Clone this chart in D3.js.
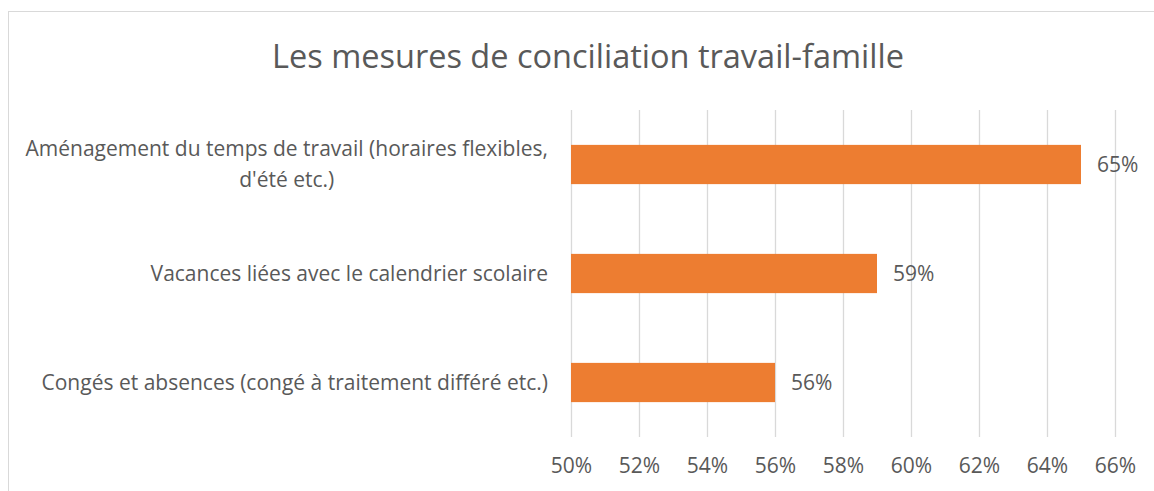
<!DOCTYPE html>
<html>
<head>
<meta charset="utf-8">
<script src="https://cdn.jsdelivr.net/npm/d3@7"></script>
<style>
  body { margin: 0; background: #fff; }
  text { font-family: "Open Sans", sans-serif; fill: #595959; }
</style>
</head>
<body>
<script>
// data
const categories = [
    "Aménagement du temps de travail (horaires flexibles,|d'été etc.)",
    "Vacances liées avec le calendrier scolaire",
    "Congés et absences (congé à traitement différé etc.)"
];
const values = [0.65, 0.59, 0.56];
const tickValues = [0.50, 0.52, 0.54, 0.56, 0.58, 0.60, 0.62, 0.64, 0.66];
const title = "Les mesures de conciliation travail-famille";

// canvas
const canvWidth = 1154, canvHeight = 491;
const svg = d3.select("body").append("svg")
    .attr("width", canvWidth)
    .attr("height", canvHeight);

// chart border (runs off the right and bottom edges like the picture)
svg.append("rect")
    .attr("x", 8.5)
    .attr("y", 11.5)
    .attr("width", 1200)
    .attr("height", 600)
    .attr("fill", "none")
    .attr("stroke", "#d9d9d9");

// plot area
const plot = { left: 571, right: 1115, top: 110, bottom: 437 };
const fontSize = "21px";

const xScale = d3.scaleLinear()
    .domain([0.50, 0.66])
    .range([plot.left, plot.right]);

const yScale = d3.scaleBand()
    .domain(categories)
    .range([plot.top, plot.bottom])
    .paddingInner(0.64)
    .paddingOuter(0.32);

// title
svg.append("text")
    .attr("x", 588)
    .attr("y", 57)
    .attr("dy", "0.35em")
    .attr("font-size", "32.5px")
    .style("text-anchor", "middle")
    .text(title);

// gridlines
const grid = svg.append("g")
    .attr("transform", "translate(0," + plot.bottom + ")")
    .call(d3.axisBottom(xScale)
        .tickValues(tickValues)
        .tickSize(-(plot.bottom - plot.top))
        .tickFormat(""));
grid.select(".domain").remove();
grid.selectAll("line").attr("stroke", "#d9d9d9").attr("stroke-width", 1.3);

// x axis labels
const xAxis = svg.append("g")
    .attr("transform", "translate(0," + plot.bottom + ")")
    .call(d3.axisBottom(xScale)
        .tickValues(tickValues)
        .tickSize(0)
        .tickPadding(21)
        .tickFormat(d3.format(".0%")));
xAxis.select(".domain").remove();
xAxis.selectAll("text")
    .attr("font-size", fontSize)
    .style("font-family", "'Open Sans', sans-serif")
    .attr("fill", "#595959");

// bars
svg.selectAll("rect.bar")
    .data(values)
    .enter()
    .append("rect")
    .attr("class", "bar")
    .attr("x", xScale(0.50))
    .attr("y", (d, i) => yScale(categories[i]))
    .attr("width", d => xScale(d) - xScale(0.50))
    .attr("height", yScale.bandwidth())
    .attr("fill", "#ed7d31");

// value labels
svg.selectAll("text.value")
    .data(values)
    .enter()
    .append("text")
    .attr("class", "value")
    .attr("x", d => xScale(d) + 16)
    .attr("y", (d, i) => yScale(categories[i]) + yScale.bandwidth() / 2)
    .attr("dy", "0.35em")
    .attr("font-size", fontSize)
    .text(d3.format(".0%"));

// category labels (multi-line ones are centred inside a right-aligned block)
categories.forEach(function (c) {
    const lines = c.split("|");
    const cy = yScale(c) + yScale.bandwidth() / 2;
    const lineH = 31;
    const t = svg.append("text")
        .attr("font-size", fontSize)
        .attr("y", cy - (lines.length - 1) * lineH / 2)
        .style("text-anchor", lines.length > 1 ? "middle" : "end");
    lines.forEach(function (l, j) {
        t.append("tspan")
            .attr("x", 548)
            .attr("dy", j === 0 ? "0.35em" : lineH)
            .text(l);
    });
    if (lines.length > 1) {
        const w = t.select("tspan").node().getComputedTextLength();
        t.selectAll("tspan").attr("x", 548 - w / 2);
    }
});
</script>
</body>
</html>
